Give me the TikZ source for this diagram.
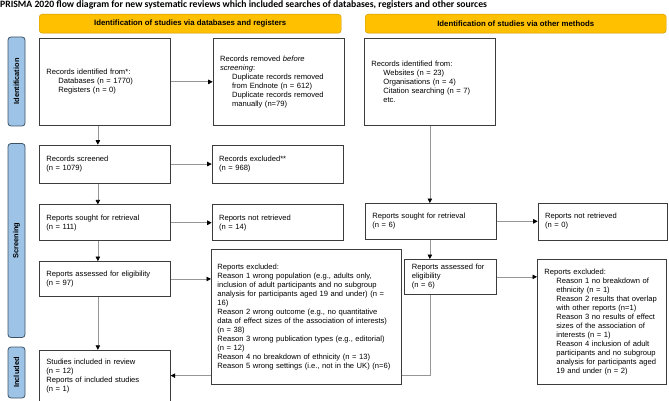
\documentclass[tikz,border=0pt]{standalone}
\usepackage{fontspec}
\setmainfont{Liberation Sans}
\newfontfamily\titlefont{Carlito}
\definecolor{prismagold}{RGB}{255,192,0}
\definecolor{prismagoldline}{RGB}{201,150,0}
\definecolor{prismablue}{RGB}{157,195,230}
\definecolor{prismablueline}{RGB}{62,82,102}
\definecolor{boxline}{RGB}{60,60,60}
\definecolor{flowgray}{RGB}{150,150,150}
\newcommand{\nudge}{\hspace*{12pt}}
\usetikzlibrary{arrows.meta, positioning, backgrounds}

\begin{document}
\begin{tikzpicture}[x=1pt, y=-1pt,
    hdr/.style={draw=prismagoldline, fill=prismagold, rounded corners=3pt,
        minimum width=302pt, minimum height=19pt, anchor=north west,
        font=\fontsize{7.8}{8}\selectfont\bfseries},
    phase/.style={draw=prismablueline, fill=prismablue, rounded corners=3pt,
        line width=0.8pt, rotate=90, minimum height=17pt, inner sep=0pt,
        font=\fontsize{7.4}{8}\selectfont\bfseries},
    rec/.style={draw=boxline, fill=white, line width=0.7pt, text width=#1,
        align=left, inner xsep=7pt, font=\fontsize{7.6}{9}\selectfont},
    rec/.default=117pt,
    arr/.style={-{Triangle[length=4.5pt, width=4.5pt, color=black]}, flowgray, line width=0.7pt}
  ]
  \useasboundingbox (0,0) rectangle (669,401);
  \node[anchor=north west, inner sep=0pt, font=\titlefont\bfseries\fontsize{9.7}{11}\selectfont]
  (title) at (0,0.5) {PRISMA 2020 flow diagram for new systematic reviews which included searches of databases, registers and other sources};
  \node[hdr] (hdrdb) at (39,14) {Identification of studies via databases and registers};
  \node[hdr, minimum width=301pt] (hdrother) at (365,14) {Identification of studies via other methods};
  \node[phase, minimum width=89pt] (phid) at (16.5,81.5) {Identification};
  \node[phase, minimum width=194pt] (phscr) at (16.5,240.5) {Screening};
  \node[phase, minimum width=51pt] (phinc) at (16.5,372.5) {Included};

  \node[rec, minimum height=87pt, anchor=north west] (recid) at (39,38)
  {Records identified from*:\\ \nudge Databases (n = 1770)\\ \nudge Registers (n = 0)};
  \node[rec, minimum height=87pt, right=42pt of recid] (recrem)
  {Records removed \emph{before}\\ \emph{screening}:\\ \nudge Duplicate records removed\\
    \nudge from Endnote (n = 612)\\ \nudge Duplicate records removed\\ \nudge manually (n=79)};
  \node[rec, minimum height=87pt, anchor=north west] (othid) at (364,38)
  {Records identified from:\\ \nudge Websites (n = 23)\\ \nudge Organisations (n = 4)\\
    \nudge Citation searching (n = 7)\\ \nudge etc.};
  \node[rec, minimum height=38pt, below=19pt of recid] (screen) {Records screened\\(n = 1079)};
  \node[rec, minimum height=38pt, right=41pt of screen] (screxcl) {Records excluded**\\(n = 968)};
  \node[rec, minimum height=36pt, below=21pt of screen] (sought) {Reports sought for retrieval\\(n = 111)};
  \node[rec, minimum height=36pt, right=41pt of sought] (notret) {Reports not retrieved\\(n = 14)};
  \node[rec, minimum height=35pt, below=20pt of sought] (assess) {Reports assessed for eligibility\\(n = 97)};
  \node[rec, minimum height=51pt, below=53pt of assess] (incl)
  {Studies included in review\\(n = 12)\\Reports of included studies\\(n = 1)};
  \node[rec=178pt, minimum height=135pt, anchor=north west, inner xsep=6pt] (asexcl) at (211,249)
  {Reports excluded:\\
    Reason 1 wrong population (e.g., adults only,\\
    inclusion of adult participants and no subgroup\\
    analysis for participants aged 19 and under) (n =\\
    16)\\
    Reason 2 wrong outcome (e.g., no quantitative\\
    data of effect sizes of the association of interests)\\
    (n = 38)\\
    Reason 3 wrong publication types (e.g., editorial)\\
    (n = 12)\\
    Reason 4 no breakdown of ethnicity (n = 13)\\
    Reason 5 wrong settings (i.e., not in the UK) (n=6)};
  \node[rec, minimum height=36pt, anchor=north west] (othsought) at (365,203)
  {Reports sought for retrieval\\(n = 6)};
  \node[rec=115pt, minimum height=37pt, right=41pt of othsought] (othnotret)
  {Reports not retrieved\\(n = 0)};
  \node[rec=77pt, minimum height=35pt, anchor=north west, inner xsep=7.5pt] (othassess) at (404,259)
  {Reports assessed for\\eligibility\\(n = 6)};
  \node[rec=115pt, minimum height=125pt, anchor=north west] (othexcl) at (537,259)
  {Reports excluded:\\
    \nudge Reason 1 no breakdown of\\
    \nudge ethnicity (n = 1)\\
    \nudge Reason 2 results that overlap\\
    \nudge with other reports (n=1)\\
    \nudge Reason 3 no results of effect\\
    \nudge sizes of the association of\\
    \nudge interests (n = 1)\\
    \nudge Reason 4 inclusion of adult\\
    \nudge participants and no subgroup\\
    \nudge analysis for participants aged\\
    \nudge 19 and under (n = 2)};

  \begin{scope}[on background layer]
    \draw[arr] (recid) -- (recrem);
    \draw[arr] ([xshift=-7pt]recid.south) -- ([xshift=-7pt]screen.north);
    \draw[arr] (screen) -- (screxcl);
    \draw[arr] ([xshift=-7pt]screen.south) -- ([xshift=-7pt]sought.north);
    \draw[arr] (sought) -- (notret);
    \draw[arr] ([xshift=-7pt]sought.south) -- ([xshift=-7pt]assess.north);
    \draw[arr] (assess.east) -- (assess.east -| asexcl.west);
    \draw[arr] ([xshift=-7pt]assess.south) -- ([xshift=-7pt]incl.north);
    \draw[arr] (othid.south) -- (othid.south |- othsought.north);
    \draw[arr] (othsought) -- (othnotret);
    \draw[arr] (othid.south |- othsought.south) -- (othid.south |- othassess.north);
    \draw[arr] (othassess.east) -- (othassess.east -| othexcl.west);
    \draw[arr] (othid.south |- othassess.south) |- (incl.east);
  \end{scope}
\end{tikzpicture}
\end{document}
